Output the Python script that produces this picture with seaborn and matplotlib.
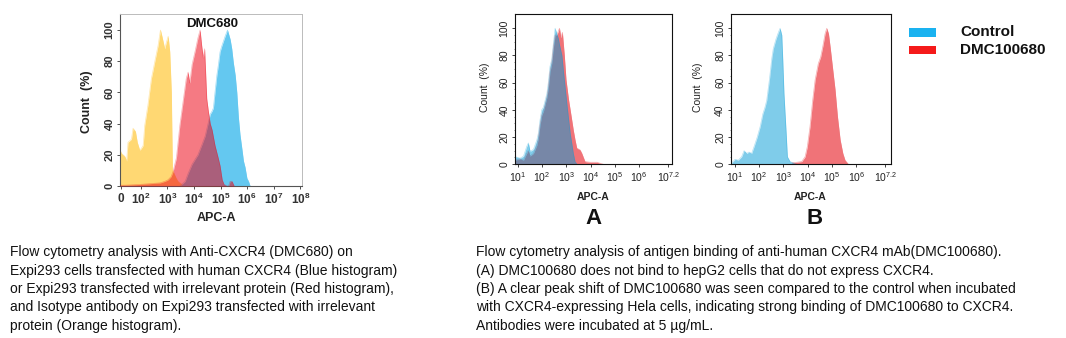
import numpy as np
import pandas as pd
import matplotlib
matplotlib.use("Agg")
import matplotlib.pyplot as plt
from matplotlib.patches import Rectangle
import seaborn as sns

sns.set_theme(style="white")
plt.rcParams['font.family'] = ['Liberation Sans', 'DejaVu Sans']
plt.rcParams['mathtext.fontset'] = 'custom'
plt.rcParams['mathtext.rm'] = 'Liberation Sans'
plt.rcParams['mathtext.bf'] = 'Liberation Sans:bold'
plt.rcParams['mathtext.it'] = 'Liberation Sans:italic'

# ---------------- data (x = log10 APC-A intensity, y = Count %) ----------------
# Panel 1: DMC680
p1_isotype_logx = [1.21, 1.27, 1.40, 1.47, 1.52, 1.65, 1.71, 1.80, 1.87, 1.96, 2.02, 2.09, 2.15, 2.27,
                   2.40, 2.46, 2.53, 2.59, 2.65, 2.74, 2.81, 2.90, 2.96, 3.03, 3.09, 3.15, 3.19, 3.25,
                   3.33, 3.40, 3.55, 3.67]
p1_isotype_count = [24, 21, 19, 16, 28, 30, 37, 35, 28, 23, 24, 26, 39, 52,
                    69, 74, 80, 85, 90, 100, 95, 88, 92, 96, 86, 60, 11, 8,
                    5, 3, 1, 0]
p1_irrelevant_logx = [1.22, 1.41, 1.97, 2.35, 2.73, 2.91, 3.03, 3.14, 3.21, 3.34, 3.47, 3.59, 3.71, 3.78,
                      3.84, 3.93, 4.05, 4.15, 4.23, 4.29, 4.35, 4.40, 4.48, 4.54, 4.61, 4.68, 4.79, 4.91,
                      4.98, 5.06, 5.13, 5.24, 5.30, 5.36, 5.43, 5.51]
p1_irrelevant_count = [0.5, 0.5, 1, 1.5, 2, 3, 4, 6, 9, 18, 39, 54, 69, 73,
                       66, 78, 87, 95, 100, 90, 82, 88, 56, 48, 40, 36, 26, 18,
                       13, 4, 1, 0, 0, 3, 3, 0]
p1_cxcr4_logx = [3.48, 3.67, 3.78, 3.93, 4.04, 4.15, 4.31, 4.42, 4.53, 4.61, 4.68, 4.73, 4.79, 4.86,
                 4.92, 4.98, 5.05, 5.17, 5.26, 5.36, 5.42, 5.48, 5.55, 5.61, 5.67, 5.73, 5.80, 5.86,
                 5.92, 5.99, 6.05, 6.11]
p1_cxcr4_count = [0, 3, 8, 14, 17, 20, 27, 32, 40, 46, 48, 50, 60, 71,
                  78, 86, 90, 96, 100, 94, 88, 79, 71, 60, 44, 33, 24, 16,
                  12, 5, 3, 0]
p1_tick_values = [1.26, 2, 3, 4, 5, 6, 7, 8]
p1_tick_labels = [r'$\mathbf{0}$', r'$\mathbf{10^{2}}$', r'$\mathbf{10^{3}}$', r'$\mathbf{10^{4}}$',
                  r'$\mathbf{10^{5}}$', r'$\mathbf{10^{6}}$', r'$\mathbf{10^{7}}$', r'$\mathbf{10^{8}}$']

# Panel A: hepG2
pa_control_logx = [0.89, 1.10, 1.24, 1.37, 1.44, 1.51, 1.65, 1.79, 1.85, 1.92, 1.99, 2.06, 2.20, 2.26,
                   2.33, 2.40, 2.47, 2.54, 2.61, 2.68, 2.72, 2.82, 2.88, 3.02, 3.16, 3.29, 3.36, 3.45]
pa_control_count = [5.6, 4.5, 6, 13, 15.7, 9.5, 11, 18, 22.8, 32.6, 40, 42, 52, 60,
                    72, 77, 89, 100, 96, 92, 88, 80, 69, 45, 23, 8, 2, 0]
pa_antibody_logx = [0.89, 1.10, 1.24, 1.37, 1.44, 1.51, 1.65, 1.79, 1.85, 1.92, 1.99, 2.06, 2.20, 2.26,
                    2.33, 2.40, 2.47, 2.54, 2.61, 2.72, 2.78, 2.84, 2.92, 2.99, 3.09, 3.16, 3.29, 3.36,
                    3.43, 3.57, 3.64, 3.77, 3.98, 4.26, 4.53]
pa_antibody_count = [3, 4, 3, 8, 10, 6, 8, 14, 19, 29, 36, 39, 49, 56,
                     68, 74, 86, 95, 95, 100, 93, 97, 80, 62, 48, 40, 25, 18,
                     12, 10.5, 8, 2, 1.5, 1.5, 0]

# Panel B: Hela
pb_control_logx = [0.88, 1.02, 1.15, 1.29, 1.39, 1.50, 1.59, 1.70, 1.80, 1.93, 2.05, 2.16, 2.25, 2.32,
                   2.43, 2.53, 2.59, 2.70, 2.80, 2.87, 2.94, 2.98, 3.03, 3.12, 3.17, 3.28, 3.42, 3.56]
pb_control_count = [1, 3.7, 3, 5.6, 10, 8, 9, 8, 13, 20, 27.6, 37, 42, 47,
                    62, 78, 85, 92, 97, 100, 95, 77, 52, 23, 5.6, 2, 1, 0]
pb_antibody_logx = [3.35, 3.56, 3.76, 3.90, 3.99, 4.10, 4.21, 4.31, 4.44, 4.54, 4.63, 4.72, 4.79, 4.86,
                    4.93, 5.02, 5.13, 5.23, 5.34, 5.45, 5.54, 5.68]
pb_antibody_count = [1, 1.5, 2, 5.6, 13, 27.6, 47, 62, 74, 79, 87, 96, 100, 96,
                     86, 72, 55, 35, 18, 8, 3, 0]
ab_tick_values = [1, 2, 3, 4, 5, 6, 7.2]
ab_tick_labels = [r'$10^{1}$', r'$10^{2}$', r'$10^{3}$', r'$10^{4}$', r'$10^{5}$', r'$10^{6}$', r'$10^{7.2}$']
y_tick_values = [0, 20, 40, 60, 80, 100]

legend_labels = ['Control', 'DMC100680']

caption_left = [
    "Flow cytometry analysis with Anti-CXCR4 (DMC680) on",
    "Expi293 cells transfected with human CXCR4 (Blue histogram)",
    "or Expi293 transfected with irrelevant protein (Red histogram),",
    "and Isotype antibody on Expi293 transfected with irrelevant",
    "protein (Orange histogram).",
]
caption_right = [
    "Flow cytometry analysis of antigen binding of anti-human CXCR4 mAb(DMC100680).",
    "(A) DMC100680 does not bind to hepG2 cells that do not express CXCR4.",
    "(B) A clear peak shift of DMC100680 was seen compared to the control when incubated",
    "with CXCR4-expressing Hela cells, indicating strong binding of DMC100680 to CXCR4.",
    "Antibodies were incubated at 5 \u00b5g/mL.",
]

# ---------------- figure ----------------
W, H = 1066, 338
fig = plt.figure(figsize=(W / 100, H / 100), dpi=100)
fig.patch.set_facecolor('white')


def px_axes(l, t, r, b):
    return fig.add_axes([l / W, 1 - b / H, (r - l) / W, (b - t) / H])


def histo(ax, x, y, color, alpha, z):
    df = pd.DataFrame({'x': x, 'y': y})
    ax.fill_between(df['x'], 0, df['y'], color=color, alpha=alpha, lw=0, zorder=z)
    sns.lineplot(data=df, x='x', y='y', ax=ax, color=color, alpha=alpha * 0.6, lw=0.5,
                 estimator=None, sort=False, zorder=z, legend=False)


# Panel 1
ax1 = px_axes(120, 14, 302, 186)
histo(ax1, p1_isotype_logx, p1_isotype_count, '#FFD873', 1.0, 1)
histo(ax1, p1_cxcr4_logx, p1_cxcr4_count, '#64C8F0', 1.0, 2)
histo(ax1, p1_irrelevant_logx, p1_irrelevant_count, '#EC0011', 0.52, 3)
ax1.set_xlim(1.22, 8.06)
ax1.set_ylim(0, 110.3)
ax1.set_xticks(p1_tick_values)
ax1.set_xticklabels(p1_tick_labels, fontsize=8.5)
ax1.set_yticks(y_tick_values)
ax1.set_yticklabels([str(v) for v in y_tick_values], rotation=90, va='center',
                    fontsize=8, fontweight='bold')
for s in ['left', 'bottom']:
    ax1.spines[s].set_color('#555555')
    ax1.spines[s].set_linewidth(0.8)
for s in ['top', 'right']:
    ax1.spines[s].set_color('#bbbbbb')
    ax1.spines[s].set_linewidth(0.7)
ax1.tick_params(bottom=True, left=True, direction='out', length=2, width=0.6, pad=2,
                colors='#333333')
ax1.set_xlabel('APC-A', fontsize=9, fontweight='bold', color='#222222')
ax1.xaxis.set_label_coords(0.53, -0.149)
ax1.set_ylabel('Count  (%)', fontsize=9, fontweight='bold', color='#222222')
ax1.yaxis.set_label_coords(-0.147, 0.49)
fig.text(211.7 / W, 1 - 24 / H, 'DMC680', fontsize=9.5, fontweight='bold',
         ha='center', va='center', color='#111111')


def style_ab(ax, xl, xr):
    ax.set_xlim(xl, xr)
    ax.set_ylim(0, 110.5)
    ax.set_xticks(ab_tick_values)
    ax.set_xticklabels(ab_tick_labels, fontsize=7.5)
    ax.set_yticks(y_tick_values)
    ax.set_yticks(np.arange(0, 105, 5), minor=True)
    ax.set_yticklabels([str(v) for v in y_tick_values], rotation=90, va='center', fontsize=7.5)
    for s in ax.spines.values():
        s.set_color('#111111')
        s.set_linewidth(0.8)
    ax.tick_params(which='major', bottom=True, left=True, direction='out', length=2,
                   width=0.6, pad=2, colors='#222222')
    ax.tick_params(which='minor', left=True, direction='out', length=1, width=0.4)
    ax.set_xlabel('APC-A', fontsize=7.5, fontweight='bold', color='#222222')
    ax.set_ylabel('Count  (%)', fontsize=7.5, color='#222222')


# Panel A
axA = px_axes(515, 14, 672, 164.3)
histo(axA, pa_antibody_logx, pa_antibody_count, '#F07378', 1.0, 1)
histo(axA, pa_control_logx, pa_control_count, '#009BD7', 0.5, 2)
style_ab(axA, 0.89, 7.35)
axA.xaxis.set_label_coords(0.50, -0.182)
axA.yaxis.set_label_coords(-0.159, 0.51)

# Panel B
axB = px_axes(730.7, 14, 891, 164.3)
histo(axB, pb_antibody_logx, pb_antibody_count, '#F07378', 1.0, 1)
histo(axB, pb_control_logx, pb_control_count, '#009BD7', 0.5, 2)
style_ab(axB, 0.84, 7.43)
axB.xaxis.set_label_coords(0.495, -0.182)
axB.yaxis.set_label_coords(-0.171, 0.51)

fig.text(593.3 / W, 1 - 219 / H, 'A', fontsize=16, fontweight='bold', ha='center', va='center',
         color='#111111')
fig.text(815 / W, 1 - 219 / H, 'B', fontsize=16, fontweight='bold', ha='center', va='center',
         color='#111111')

# Legend
legend_colors = ['#1AB2F0', '#F51A1A']
legend_y = [32.5, 50]
for lab, col, yc in zip(legend_labels, legend_colors, legend_y):
    fig.add_artist(Rectangle((909 / W, 1 - (yc + 4.3) / H), 27 / W, 8.6 / H,
                             transform=fig.transFigure, facecolor=col, edgecolor='none'))
    fig.text(960 / W, 1 - yc / H, lab, fontsize=11, fontweight='bold', ha='left', va='center',
             color='#111111')

# Captions
for i, line in enumerate(caption_left):
    fig.text(10 / W, 1 - (252 + i * 18.5) / H, line, fontsize=10, ha='left', va='center',
             color='#111111')
for i, line in enumerate(caption_right):
    fig.text(476 / W, 1 - (252 + i * 18.5) / H, line, fontsize=10, ha='left', va='center',
             color='#111111')

fig.savefig('out.png', dpi=100, facecolor='white')
